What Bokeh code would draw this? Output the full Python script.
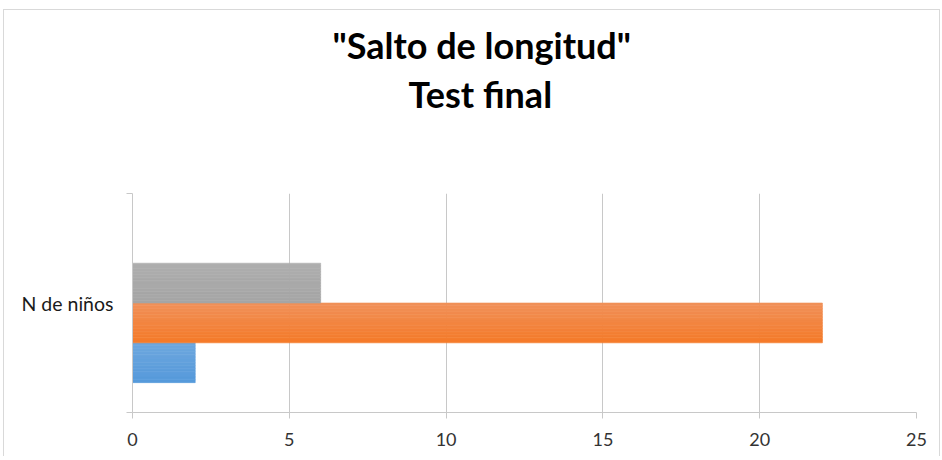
from bokeh.plotting import figure
from bokeh.models import Range1d, FixedTicker, Title
from bokeh.embed import file_html
from bokeh.resources import INLINE

# ---- data ----
category = "N de niños"
series = ["Serie 1", "Serie 2", "Serie 3", "Serie 4"]
values = [2, 22, 6, 0]
top_colors = ["#6FA8DE", "#F0915A", "#AEAEAE", "#FFC84A"]
bottom_colors = ["#5599DB", "#F57A28", "#A5A5A5", "#FFC000"]
x_ticks = [0, 5, 10, 15, 20, 25]
title_lines = ['"Salto de longitud"', "Test final"]

FONT = "Lato"
GRID = "#C8C8C8"

p = figure(frame_width=784, frame_height=219,
           x_range=Range1d(0, 25), y_range=Range1d(0, 1),
           output_backend="svg", toolbar_location=None, title=None,
           min_border_left=128, min_border_right=23,
           min_border_top=183, min_border_bottom=44)
p.background_fill_color = "white"
p.border_fill_color = "white"
p.outline_line_color = None
p.styles = {"margin-left": "3px", "margin-top": "9px",
            "border-top": "1px solid #D9D9D9",
            "border-left": "1px solid #D9D9D9",
            "border-right": "1px solid #D9D9D9"}

# titles: spacer closest to the frame, then line 2, then line 1
p.add_layout(Title(text=" ", text_font_size="1px", standoff=74.7), "above")
p.add_layout(Title(text=title_lines[1], align="left", offset=276, text_font=FONT,
                   text_font_size="36px", text_font_style="bold",
                   text_color="black", standoff=0), "above")
p.add_layout(Title(text=title_lines[0], align="left", offset=200, text_font=FONT,
                   text_font_size="36px", text_font_style="bold",
                   text_color="black", standoff=4.6), "above")

# bars with vertical gradient drawn as thin strips
def hex2rgb(h):
    h = h.lstrip("#")
    return tuple(int(h[i:i + 2], 16) for i in (0, 2, 4))

def mix(a, b, t):
    ra, rb = hex2rgb(a), hex2rgb(b)
    return "#%02x%02x%02x" % tuple(round(x + (y - x) * t) for x, y in zip(ra, rb))

n = len(series)
bar_h = 1 / (n + 1.5)
N = 14
ys, rights, cols = [], [], []
for i, (v, ct, cb) in enumerate(zip(values, top_colors, bottom_colors)):
    center = 0.5 + (i - (n - 1) / 2) * bar_h
    for k in range(N):
        t = (k + 0.5) / N
        ys.append(center + bar_h / 2 - (k + 0.5) * bar_h / N)
        rights.append(v)
        cols.append(mix(ct, cb, t))

p.hbar(y=ys, height=bar_h / N, left=0, right=rights,
       fill_color=cols, line_color=cols, line_width=0.6)

# grid
p.xgrid.ticker = FixedTicker(ticks=x_ticks)
p.xgrid.grid_line_color = GRID
p.xgrid.grid_line_width = 1
p.ygrid.grid_line_color = None

# x axis
xa = p.xaxis[0]
xa.ticker = FixedTicker(ticks=x_ticks)
xa.axis_line_color = GRID
xa.major_tick_line_color = GRID
xa.major_tick_out = 6
xa.major_tick_in = 0
xa.minor_tick_line_color = None
xa.major_label_text_font = FONT
xa.major_label_text_font_size = "18px"
xa.major_label_text_color = "#333333"
xa.major_label_standoff = 14

# y axis
ya = p.yaxis[0]
ya.ticker = FixedTicker(ticks=[0.5], minor_ticks=[0, 1])
ya.major_label_overrides = {0.5: category}
ya.axis_line_color = GRID
ya.major_tick_line_color = None
ya.major_tick_out = 0
ya.major_tick_in = 0
ya.minor_tick_line_color = GRID
ya.minor_tick_out = 6
ya.minor_tick_in = 0
ya.major_label_text_font = FONT
ya.major_label_text_font_size = "19.5px"
ya.major_label_text_color = "#1a1a1a"
ya.major_label_standoff = 13

open("out.html", "w").write(file_html(p, INLINE))
